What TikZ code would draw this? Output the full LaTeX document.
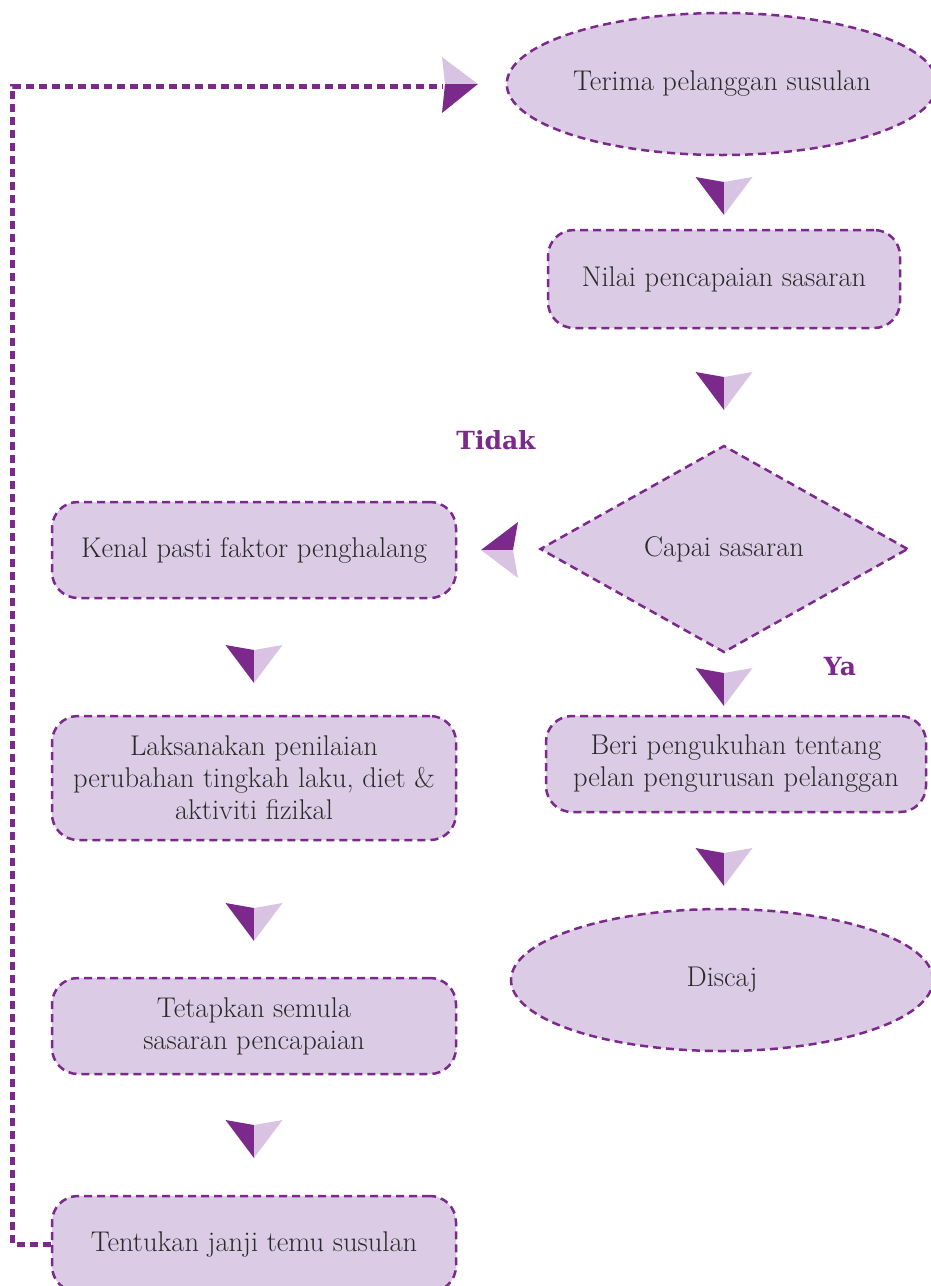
\documentclass[tikz,border=0pt]{standalone}
\usepackage{fontspec}
\newfontfamily\lblfont{DejaVu Serif}
\usetikzlibrary{shapes.geometric}
\definecolor{pdark}{HTML}{7B2A8C}
\definecolor{plight}{HTML}{DCCBE5}
\definecolor{ptri}{HTML}{D8C4E2}
\definecolor{txt}{HTML}{2A2A2A}
\tikzset{
  x=1pt,y=-1pt,
  base/.style={fill=plight,draw=pdark,line width=2.5pt,dash pattern=on 8pt off 5pt,
     text=txt,font=\fontsize{28.5}{32}\selectfont,align=center},
  rbox/.style={base,rectangle,rounded corners=26pt,minimum width=404pt},
  ell/.style={base,ellipse,minimum width=422pt,minimum height=142pt},
  dia/.style={base,diamond,minimum width=368pt,minimum height=207pt},
  lbl/.style={text=pdark,font=\lblfont\bfseries\fontsize{25}{28}\selectfont},
  fb/.style={draw=pdark,line width=5pt,dash pattern=on 8pt off 5pt},
  darrow/.pic={
    \fill[pdark] (-28.5,0) -- (0,5) -- (0,38) -- cycle;
    \fill[ptri] (28.5,0) -- (0,5) -- (0,38) -- cycle;
  },
  larrow/.pic={
    \fill[pdark] (0,0) -- (37,-28) -- (32,0) -- cycle;
    \fill[ptri] (0,0) -- (37,28) -- (32,0) -- cycle;
  },
  rarrow/.pic={
    \fill[ptri] (0,0) -- (-36,-27) -- (-33,0) -- cycle;
    \fill[pdark] (0,0) -- (-36,29) -- (-33,0) -- cycle;
  },
}
\begin{document}
\begin{tikzpicture}
\useasboundingbox (0,0) rectangle (930,1286);
% right column
\node[ell] (terima) at (722,84) {Terima pelanggan susulan};
\node[rbox,minimum width=352pt,minimum height=98pt] (nilai) at (724,279) {Nilai pencapaian sasaran};
\node[dia] (capai) at (724,549) {Capai sasaran};
\node[rbox,minimum width=380pt,minimum height=96pt] (beri) at (736,764) {Beri pengukuhan tentang\\pelan pengurusan pelanggan};
\node[ell] (discaj) at (722,980) {Discaj};
% left column
\node[rbox,minimum height=96pt] (kenal) at (254,550) {Kenal pasti faktor penghalang};
\node[rbox,minimum height=124pt] (laksana) at (254,778) {Laksanakan penilaian\\perubahan tingkah laku, diet \&\\aktiviti fizikal};
\node[rbox,minimum height=96pt] (tetap) at (254,1026) {Tetapkan semula\\sasaran pencapaian};
\node[rbox,minimum height=96pt] (tentu) at (254,1244) {Tentukan janji temu susulan};
% labels
\node[lbl] (tidak) at (496,440) {Tidak};
\node[lbl] (ya) at (840,667) {Ya};
% arrow markers
\pic at (724,177) {darrow};
\pic at (724,372) {darrow};
\pic at (724,668) {darrow};
\pic at (724,848) {darrow};
\pic at (254,645) {darrow};
\pic at (254,903) {darrow};
\pic at (254,1120) {darrow};
\pic at (481,550) {larrow};
\pic at (478,84) {rarrow};
% feedback
\coordinate (fbend) at (443,86);
\draw[fb] (tentu.west) -- ++(-38,0) |- (fbend);
\end{tikzpicture}
\end{document}
